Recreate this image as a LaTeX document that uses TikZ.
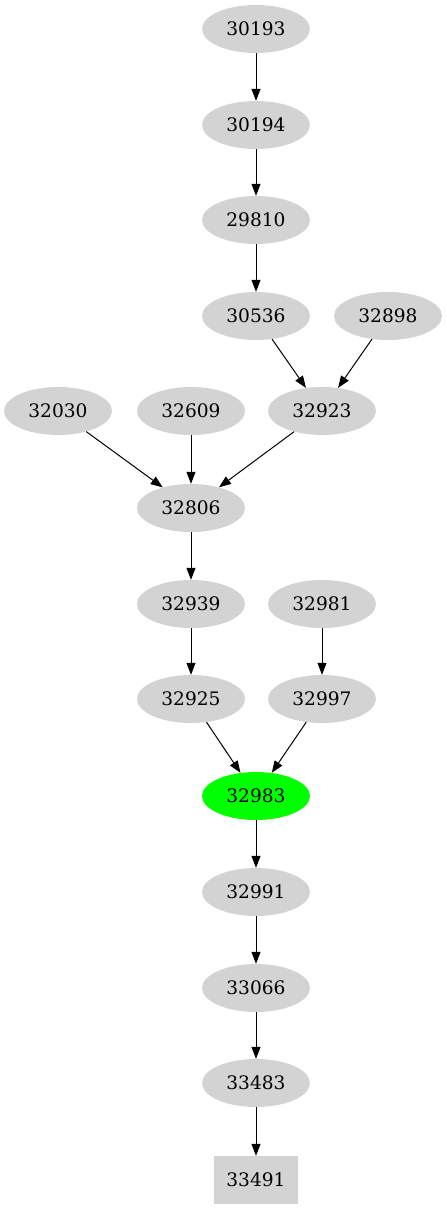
\documentclass[tikz,border=0pt]{standalone}
\usepackage{fontspec}
\setmainfont{DejaVu Serif}
\usetikzlibrary{shapes.geometric,arrows.meta}
\definecolor{nodegray}{RGB}{211,211,211}
\definecolor{hot}{RGB}{0,255,0}
\tikzset{
  gnode/.style={ellipse,fill=nodegray,minimum width=108pt,minimum height=48pt,inner sep=0pt,font=\fontsize{18.6pt}{21pt}\selectfont},
  hotnode/.style={gnode,fill=hot},
  boxnode/.style={rectangle,fill=nodegray,minimum width=84pt,minimum height=48pt,inner sep=0pt,font=\fontsize{18.6pt}{21pt}\selectfont},
  edge/.style={draw=black,line width=1pt,-{Triangle[length=12pt,width=9pt]}}
}
\begin{document}
\begin{tikzpicture}[x=1pt,y=-1pt]
\useasboundingbox (0,0) rectangle (447,1211);
\node[gnode] (n30193) at (256,29) {30193};
\node[gnode] (n30194) at (256,125) {30194};
\node[gnode] (n29810) at (256,220) {29810};
\node[gnode] (n30536) at (256,316) {30536};
\node[gnode] (n32898) at (388,316) {32898};
\node[gnode] (n32030) at (58,411) {32030};
\node[gnode] (n32609) at (191,411) {32609};
\node[gnode] (n32923) at (322,411) {32923};
\node[gnode] (n32806) at (191,508) {32806};
\node[gnode] (n32939) at (191,604) {32939};
\node[gnode] (n32981) at (322,604) {32981};
\node[gnode] (n32925) at (191,699) {32925};
\node[gnode] (n32997) at (322,699) {32997};
\node[hotnode] (n32983) at (256,796) {32983};
\node[gnode] (n32991) at (256,892) {32991};
\node[gnode] (n33066) at (256,988) {33066};
\node[gnode] (n33483) at (256,1083) {33483};
\node[boxnode] (n33491) at (256,1180) {33491};
\draw[edge] (n30193) -- (n30194);
\draw[edge] (n30194) -- (n29810);
\draw[edge] (n29810) -- (n30536);
\draw[edge] (n30536) -- (n32923);
\draw[edge] (n32898) -- (n32923);
\draw[edge] (n32030) -- (n32806);
\draw[edge] (n32609) -- (n32806);
\draw[edge] (n32923) -- (n32806);
\draw[edge] (n32806) -- (n32939);
\draw[edge] (n32939) -- (n32925);
\draw[edge] (n32981) -- (n32997);
\draw[edge] (n32925) -- (n32983);
\draw[edge] (n32997) -- (n32983);
\draw[edge] (n32983) -- (n32991);
\draw[edge] (n32991) -- (n33066);
\draw[edge] (n33066) -- (n33483);
\draw[edge] (n33483) -- (n33491);
\end{tikzpicture}
\end{document}
